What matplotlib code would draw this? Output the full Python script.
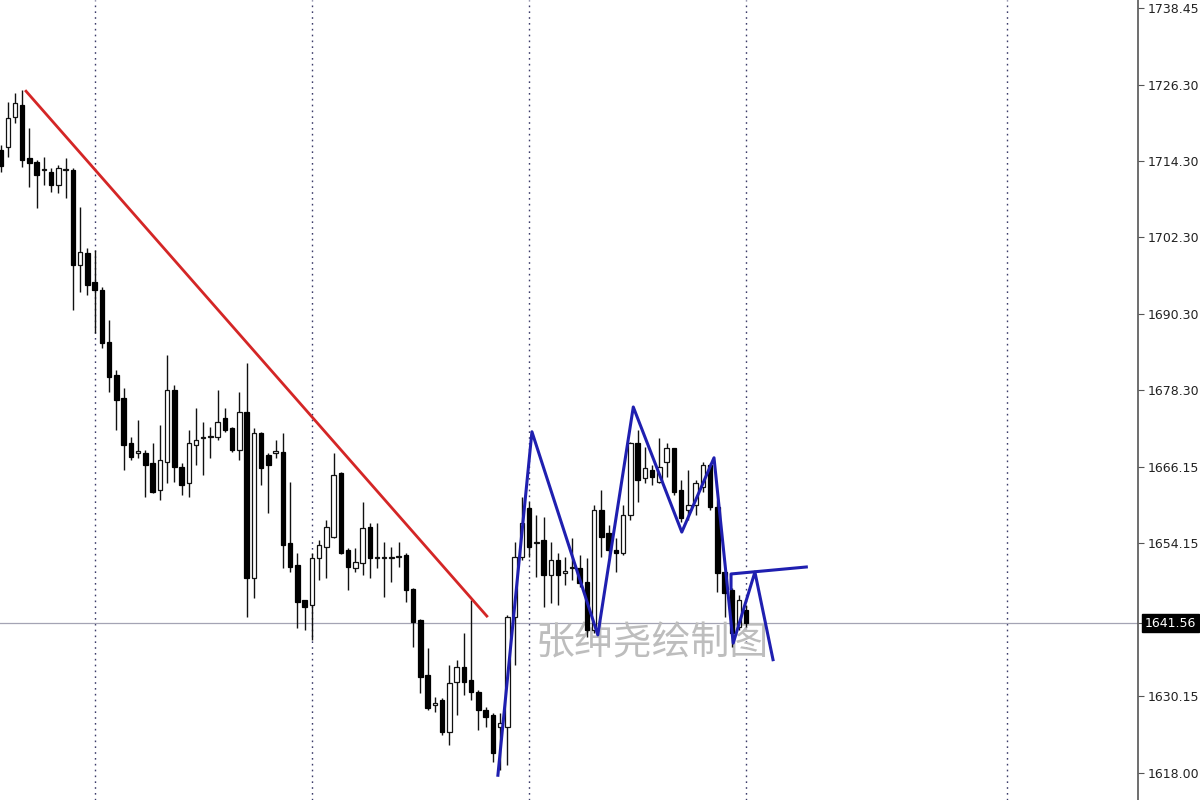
import matplotlib
matplotlib.use('Agg')
import matplotlib.pyplot as plt
import matplotlib.transforms as mtransforms
import numpy as np

plt.rcParams['font.family'] = ['DejaVu Sans', 'Noto Sans CJK SC']

# OHLC of the candles, oldest first
opens = [1716.1, 1716.5, 1721.3, 1723.2, 1714.8, 1714.2, 1712.9, 1712.6, 1710.6, 1712.9,
         1712.9, 1698.0, 1699.9, 1695.3, 1694.0, 1685.8, 1680.6, 1677.0, 1669.9, 1668.4,
         1668.4, 1666.8, 1662.5, 1667.0, 1678.3, 1666.2, 1663.6, 1669.6, 1670.7, 1670.9,
         1670.9, 1673.9, 1672.3, 1668.8, 1674.8, 1648.7, 1671.5, 1668.0, 1668.4, 1668.5,
         1654.2, 1650.7, 1645.2, 1644.4, 1651.8, 1653.5, 1655.1, 1665.2, 1653.1, 1650.2,
         1651.0, 1656.7, 1651.8, 1651.8, 1651.8, 1652.0, 1652.3, 1646.9, 1642.1, 1633.4,
         1628.7, 1629.5, 1624.4, 1632.3, 1634.7, 1632.6, 1630.7, 1627.9, 1627.1, 1625.2,
         1625.2, 1642.5, 1652.0, 1659.7, 1654.2, 1654.7, 1649.1, 1651.5, 1649.5, 1650.2,
         1650.2, 1648.0, 1640.5, 1659.4, 1655.8, 1653.1, 1652.6, 1658.6, 1669.9, 1664.4,
         1665.7, 1663.8, 1667.0, 1669.1, 1662.5, 1659.4, 1660.2, 1663.0, 1666.5, 1659.8,
         1649.6, 1646.8, 1641.0, 1643.6]
highs = [1716.9, 1723.6, 1725.1, 1725.5, 1719.5, 1714.5, 1715.0, 1713.2, 1713.7, 1714.8,
         1713.2, 1707.1, 1700.6, 1700.3, 1694.5, 1689.3, 1681.4, 1678.6, 1670.9, 1673.6,
         1668.8, 1669.9, 1672.8, 1683.8, 1679.1, 1666.8, 1672.0, 1675.4, 1673.2, 1672.4,
         1678.3, 1675.4, 1672.5, 1678.0, 1682.5, 1672.3, 1671.6, 1668.4, 1670.4, 1671.5,
         1663.8, 1652.6, 1645.2, 1652.6, 1654.7, 1657.8, 1668.4, 1665.3, 1653.4, 1653.4,
         1660.6, 1657.3, 1657.3, 1654.3, 1653.5, 1654.3, 1652.6, 1647.1, 1642.2, 1637.6,
         1629.9, 1629.8, 1635.0, 1635.8, 1640.0, 1645.2, 1631.0, 1628.4, 1627.4, 1627.4,
         1642.8, 1654.3, 1661.4, 1660.6, 1658.6, 1658.3, 1654.3, 1652.6, 1652.0, 1655.0,
         1652.3, 1651.8, 1660.2, 1662.5, 1657.0, 1655.0, 1660.2, 1670.1, 1672.0, 1669.3,
         1666.5, 1670.7, 1669.9, 1669.2, 1664.1, 1665.7, 1664.1, 1667.0, 1666.8, 1661.0,
         1649.7, 1647.1, 1646.0, 1644.4]
lows = [1712.6, 1715.0, 1720.3, 1713.4, 1710.2, 1706.9, 1710.6, 1709.5, 1709.3, 1708.5,
        1690.9, 1693.7, 1693.2, 1687.3, 1684.9, 1678.0, 1672.0, 1665.7, 1667.2, 1667.6,
        1661.4, 1662.1, 1661.0, 1663.6, 1663.8, 1661.7, 1661.4, 1666.5, 1664.9, 1667.6,
        1670.4, 1671.7, 1668.5, 1667.3, 1642.5, 1645.5, 1663.3, 1658.9, 1667.6, 1650.2,
        1649.6, 1640.8, 1640.5, 1638.9, 1648.4, 1648.7, 1655.0, 1652.5, 1646.8, 1649.6,
        1649.1, 1648.7, 1650.2, 1645.7, 1648.0, 1650.4, 1644.9, 1637.8, 1630.6, 1627.9,
        1627.6, 1623.9, 1622.4, 1627.1, 1630.2, 1629.5, 1624.7, 1625.2, 1619.7, 1618.4,
        1619.2, 1635.0, 1651.5, 1652.0, 1648.8, 1644.1, 1644.7, 1644.4, 1647.6, 1648.4,
        1647.3, 1639.4, 1640.0, 1652.0, 1652.0, 1649.6, 1652.3, 1657.8, 1660.6, 1663.6,
        1663.3, 1663.6, 1664.6, 1661.7, 1657.5, 1657.8, 1658.6, 1662.2, 1659.4, 1646.5,
        1642.5, 1637.8, 1640.5, 1641.0]
closes = [1713.6, 1721.1, 1723.5, 1714.5, 1714.0, 1712.1, 1712.9, 1710.6, 1713.2, 1712.9,
          1698.0, 1700.0, 1694.8, 1694.0, 1685.7, 1680.3, 1676.7, 1669.6, 1667.7, 1668.4,
          1666.5, 1662.2, 1667.3, 1678.3, 1666.2, 1663.3, 1669.9, 1670.4, 1670.7, 1670.9,
          1673.2, 1672.0, 1668.8, 1674.8, 1648.7, 1671.5, 1666.0, 1666.5, 1668.4, 1653.9,
          1650.4, 1644.9, 1644.1, 1651.8, 1653.9, 1656.7, 1664.9, 1652.6, 1650.4, 1651.2,
          1656.5, 1651.8, 1651.8, 1651.8, 1651.8, 1652.0, 1646.8, 1641.7, 1633.1, 1628.2,
          1628.7, 1624.4, 1632.1, 1634.7, 1632.3, 1630.7, 1627.9, 1626.8, 1621.1, 1625.9,
          1642.5, 1652.0, 1657.3, 1653.5, 1654.2, 1649.1, 1651.5, 1649.1, 1649.5, 1650.2,
          1647.9, 1640.5, 1659.4, 1655.1, 1653.1, 1652.6, 1658.6, 1669.9, 1664.1, 1666.0,
          1664.6, 1666.2, 1669.1, 1662.2, 1658.1, 1660.2, 1663.6, 1666.5, 1659.8, 1649.5,
          1646.3, 1640.0, 1645.2, 1641.56]

price_ticks = [1738.45, 1726.30, 1714.30, 1702.30, 1690.30, 1678.30, 1666.15, 1654.15,
               1630.15, 1618.00]
last_price = 1641.56
session_breaks = [13, 43, 73, 103, 139]

# hand drawn lines (bar index, price)
red_x = [3.4, 67.3]
red_y = [1725.5, 1642.5]
zig_x = [68.7, 73.4, 82.5, 87.4, 94.1, 98.55, 101.2, 104.2, 106.7]
zig_y = [1617.6, 1671.7, 1639.7, 1675.6, 1655.9, 1667.6, 1638.4, 1649.6, 1635.8]
flat_x = [100.9, 100.9, 111.3]
flat_y = [1647.0, 1649.3, 1650.4]

watermark = '张绅尧绘制图'

fig = plt.figure(figsize=(12, 8), dpi=100)
fig.patch.set_facecolor('white')
ax = fig.add_axes([0, 0, 1138 / 1200, 1])

o = np.array(opens)
h = np.array(highs)
l = np.array(lows)
c = np.array(closes)
x = np.arange(len(o))
up = c >= o

# wicks
ax.vlines(x, l, h, color='#111111', lw=1.0, zorder=3)
# bodies
bottom = np.minimum(o, c)
height = np.maximum(np.abs(c - o), 0.2)
ax.bar(x[up], height[up], 0.62, bottom=bottom[up], facecolor='white',
       edgecolor='#111111', linewidth=0.9, zorder=4)
ax.bar(x[~up], height[~up], 0.62, bottom=bottom[~up], facecolor='black',
       edgecolor='black', linewidth=0.9, zorder=4)

# grid / price line
for b in session_breaks:
    ax.axvline(b, color='#3c3c6a', lw=1.0, ls=(0, (1.2, 3)), zorder=1)
ax.axhline(last_price, color='#a4a4b4', lw=0.9, zorder=1)

ax.plot(red_x, red_y, color='#d42626', lw=2.0, zorder=5, solid_capstyle='butt')
ax.plot(zig_x, zig_y, color='#1f1fb0', lw=2.2, zorder=5)
ax.plot(flat_x, flat_y, color='#1f1fb0', lw=2.2, zorder=5)

ax.text(90.0, 1638.4, watermark, family=['Noto Sans CJK SC', 'DejaVu Sans'],
        fontsize=28, fontweight='light', color='#bdbdbd', ha='center', va='center',
        zorder=2)

xmin = -0.07
ax.set_xlim(xmin, xmin + 1138 / 7.24)
ax.set_ylim(1613.7, 1739.7)
ax.set_xticks([])

ax.yaxis.tick_right()
ax.set_yticks(price_ticks + [last_price])
ax.set_yticklabels(['%.2f' % p for p in price_ticks] + [''])
ax.tick_params(axis='y', direction='out', length=4, width=0.8, color='#555555',
               labelsize=9, labelcolor='#222222', pad=3)
for s in ['left', 'top', 'bottom']:
    ax.spines[s].set_visible(False)
ax.spines['right'].set_color('#555555')
ax.spines['right'].set_linewidth(1.2)

trans = mtransforms.blended_transform_factory(ax.transAxes, ax.transData)
ax.text(1.006, last_price, '%.2f' % last_price, transform=trans, ha='left', va='center',
        color='white', fontsize=9, clip_on=False,
        bbox=dict(boxstyle='square,pad=0.2', fc='black', ec='black'))

fig.savefig('out.png', dpi=100)
